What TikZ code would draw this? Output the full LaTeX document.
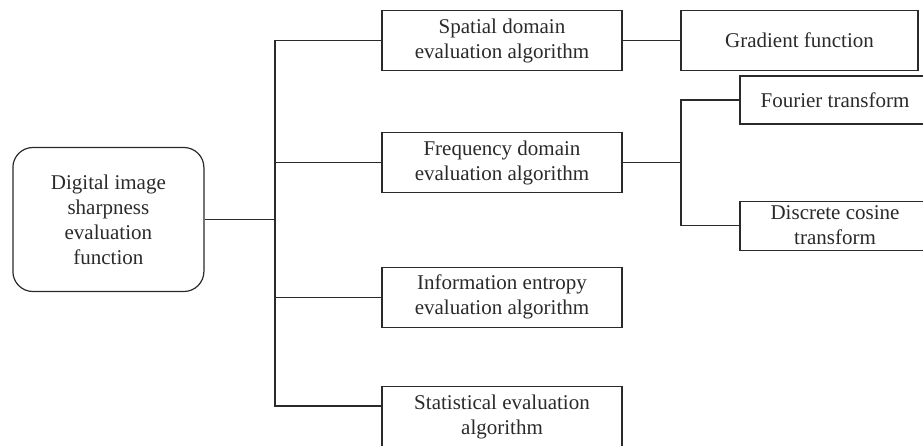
\documentclass[tikz,border=0pt]{standalone}
\usepackage{fontspec}
\setmainfont{Liberation Serif}
\usetikzlibrary{calc}
\definecolor{ink}{HTML}{2A2A2A}
\tikzset{
  box/.style={draw=ink, line width=1.2pt, text=ink, align=center, inner sep=0pt,
    font=\fontsize{21}{25}\selectfont},
  link/.style={draw=ink, line width=1.2pt}
}
\begin{document}
\begin{tikzpicture}[x=1pt,y=-1pt]
\clip (0,0) rectangle (923,445);
\node[box, rounded corners=20pt, minimum width=191pt, minimum height=144pt] (root) at (108.4,219.5)
  {Digital image\\sharpness\\evaluation\\function};
\node[box, minimum width=240pt, minimum height=60pt] (spatial) at (502,40.7)
  {Spatial domain\\evaluation algorithm};
\node[box, minimum width=240pt, minimum height=60pt] (freq) at (502,162.7)
  {Frequency domain\\evaluation algorithm};
\node[box, minimum width=240pt, minimum height=60pt] (info) at (502,297.3)
  {Information entropy\\evaluation algorithm};
\node[box, minimum width=240pt, minimum height=60pt] (stat) at (502,416.5)
  {Statistical evaluation\\algorithm};
\node[box, minimum width=237pt, minimum height=60pt] (grad) at (799.5,40.7)
  {Gradient function};
\node[box, minimum width=190pt, minimum height=48pt] (fourier) at (835,100)
  {Fourier transform};
\node[box, minimum width=190pt, minimum height=49pt] (dct) at (835,225.6)
  {Discrete cosine\\transform};
\coordinate (t) at (275,219.5);
\coordinate (f) at (681,162.7);
\draw[link] (root.east) -- (t);
\draw[link] (spatial.west) -| (t);
\draw[link] (freq.west) -| (t);
\draw[link] (info.west) -| (t);
\draw[link] ($(stat.north west)+(0,20)$) -| (t);
\draw[link] (spatial.east) -- (grad.west);
\draw[link] (freq.east) -- (f);
\draw[link] (fourier.west) -| (f);
\draw[link] (dct.west) -| (f);
\end{tikzpicture}
\end{document}
